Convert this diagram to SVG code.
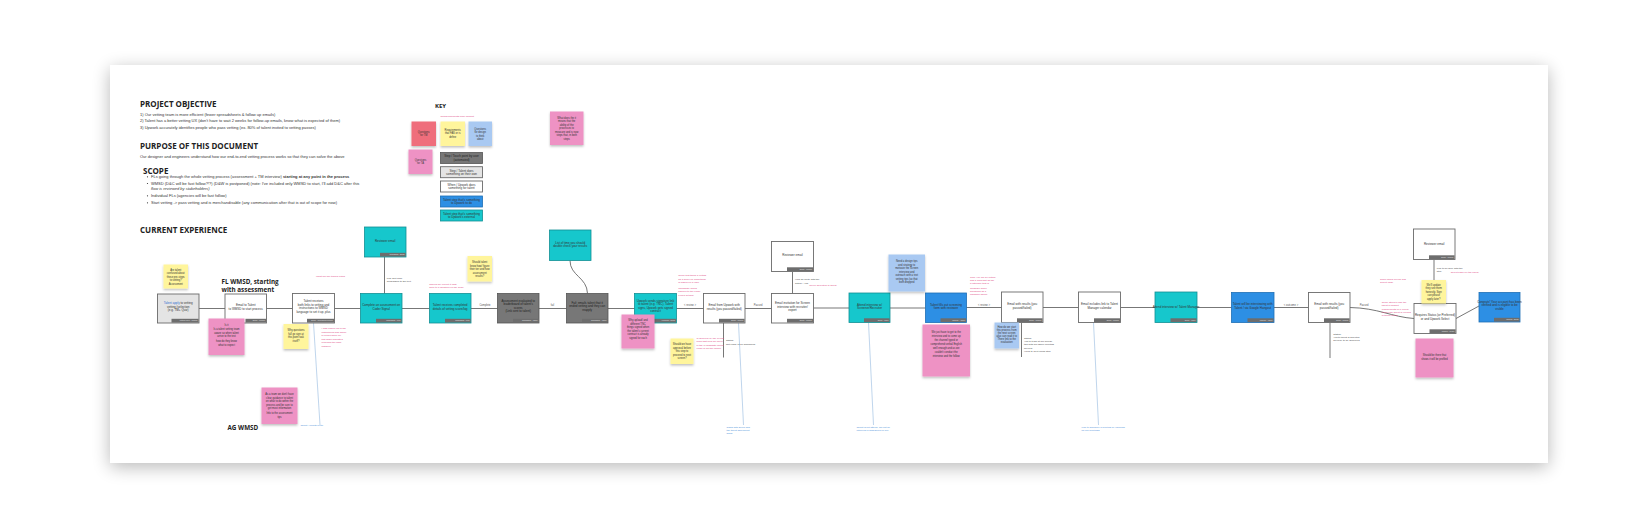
<svg xmlns="http://www.w3.org/2000/svg" width="1645" height="528" viewBox="0 0 1645 528">
<defs>
<filter id="boardShadow" x="-5%" y="-10%" width="110%" height="125%">
<feGaussianBlur in="SourceAlpha" stdDeviation="9"/>
<feOffset dy="4"/>
<feComponentTransfer><feFuncA type="linear" slope="0.28"/></feComponentTransfer>
<feMerge><feMergeNode/><feMergeNode in="SourceGraphic"/></feMerge>
</filter>
<filter id="stickyShadow" x="-20%" y="-20%" width="140%" height="150%">
<feDropShadow dx="0" dy="1.5" stdDeviation="1.2" flood-color="#000" flood-opacity="0.25"/>
</filter>
</defs>
<style>
.h{font-family:"Open Sans","Liberation Sans",sans-serif;font-weight:bold;fill:#222}
.b{font-family:"Liberation Sans",Arial,sans-serif;font-size:4px;fill:#333}
.t{font-family:"Liberation Sans",Arial,sans-serif;font-size:3px;fill:#333;text-anchor:middle}
.tw{font-family:"Liberation Sans",Arial,sans-serif;font-size:3px;fill:#1e1e1e;text-anchor:middle}
.tk{font-family:"Liberation Sans",Arial,sans-serif;font-size:3px;fill:#f2f2f2;text-anchor:middle}
.tb{font-family:"Liberation Sans",Arial,sans-serif;font-size:1.8px;fill:#e6e6e6;text-anchor:end}
.s{font-family:"Liberation Sans",Arial,sans-serif;font-size:2.6px;fill:#333;text-anchor:middle}
.pk{font-family:"Liberation Sans",Arial,sans-serif;font-size:2.5px;fill:#e0457f}
.gt{font-family:"Liberation Sans",Arial,sans-serif;font-size:2.5px;fill:#444}
.bt{font-family:"Liberation Sans",Arial,sans-serif;font-size:2.5px;fill:#4a90d9}
.lbl{font-family:"Liberation Sans",Arial,sans-serif;font-size:2.6px;fill:#555;text-anchor:middle}
.wn{fill:#ffffff;stroke:#6a6a6a;stroke-width:0.9}
.lg{fill:#e4e4e4;stroke:#6a6a6a;stroke-width:0.9}
.tl{fill:#16c7cc;stroke:#128f94;stroke-width:0.8}
.gy{fill:#777777;stroke:#555;stroke-width:0.8}
.bu{fill:#2d8fe4;stroke:#1f6fb5;stroke-width:0.8}
.bar{fill:#6d6d6d}
.sy{fill:#fff59c;filter:url(#stickyShadow)}
.sp{fill:#ee92c4;filter:url(#stickyShadow)}
.sb{fill:#a9c9f2;filter:url(#stickyShadow)}
.sr{fill:#ef6e7b;filter:url(#stickyShadow)}
.c{fill:none;stroke:#5e5e5e;stroke-width:0.85}
.cb{fill:none;stroke:#b3cde8;stroke-width:0.85}
</style>

<rect x="0" y="0" width="1645" height="528" fill="#ffffff"/>
<rect x="110" y="65" width="1438" height="398" fill="#ffffff" filter="url(#boardShadow)"/>

<!-- Intro text -->
<g id="intro">
<text class="h" x="140" y="107" font-size="8">PROJECT OBJECTIVE</text>
<text class="b" x="140" y="115.5">1) Our vetting team is more efficient (fewer spreadsheets &amp; follow up emails)</text>
<text class="b" x="140" y="122">2) Talent has a better vetting UX (don't have to wait 2 weeks for follow-up emails, know what is expected of them)</text>
<text class="b" x="140" y="129">3) Upwork accurately identifies people who pass vetting (ex. 80% of talent invited to vetting passes)</text>
<text class="h" x="140" y="149" font-size="8">PURPOSE OF THIS DOCUMENT</text>
<text class="b" x="140" y="158">Our designer and engineers understand how our end-to-end vetting process works so that they can solve the above</text>
<text class="h" x="143" y="174" font-size="8">SCOPE</text>
<circle cx="147.5" cy="176.8" r="0.6" fill="#333"/>
<text class="b" x="151" y="178">FLs going through the whole vetting process (assessment + TM interview) <tspan font-weight="bold">starting at any point in the process</tspan></text>
<circle cx="147.5" cy="183.5" r="0.6" fill="#333"/>
<text class="b" x="151" y="184.7">WMSD (D&amp;C will be fast follow?!?) (D&amp;W is postponed) (note: I've included only WMSD to start, I'll add D&amp;C after this</text>
<text class="b" x="151" y="190" font-style="italic">flow is reviewed by stakeholders)</text>
<circle cx="147.5" cy="195.8" r="0.6" fill="#333"/>
<text class="b" x="151" y="197">Individual FLs (agencies will be fast follow)</text>
<circle cx="147.5" cy="202.8" r="0.6" fill="#333"/>
<text class="b" x="151" y="204">Start vetting -&gt; pass vetting and is merchandisable (any communication after that is out of scope for now)</text>
<text class="h" x="140" y="233" font-size="8">CURRENT EXPERIENCE</text>
<text class="h" x="221.5" y="283.5" font-size="6.3">FL WMSD, starting</text>
<text class="h" x="221.5" y="291.5" font-size="6.3">with assessment</text>
<text class="h" x="227.5" y="429.5" font-size="6.3">AG WMSD</text>
</g>

<!-- Key -->
<g id="key">
<text class="h" x="435" y="108" font-size="6">KEY</text>
<text class="pk" x="440.5" y="116.5">Notes/comments from product</text>
<g id="key-red"><rect class="sr" x="411.5" y="121.5" width="24.5" height="24.5"/><text class="s" x="423.7" y="132.5" fill="#7a1420">Questions</text><text class="s" x="423.7" y="136" fill="#7a1420">for TM</text></g>
<g id="key-yellow"><rect class="sy" x="440.5" y="121.5" width="24.5" height="24.5"/><text class="s" x="452.7" y="130.5">Requirements</text><text class="s" x="452.7" y="134">that FAS or is</text><text class="s" x="452.7" y="137.5">define</text></g>
<g id="key-blue"><rect class="sb" x="468.5" y="121.5" width="23.5" height="24.5"/><text class="s" x="480.2" y="129.5">Questions</text><text class="s" x="480.2" y="133">for design</text><text class="s" x="480.2" y="136.5">to think</text><text class="s" x="480.2" y="140">about</text></g>
<g id="key-pink"><rect class="sp" x="408.5" y="149.5" width="24" height="24.5"/><text class="s" x="420.5" y="160.5">Questions</text><text class="s" x="420.5" y="164">for TA</text></g>
<g id="key-gray"><rect class="gy" x="440.5" y="152.5" width="42" height="11"/><text class="tw" x="461.5" y="157.3" font-size="2.5">Step / Touch point by user</text><text class="tw" x="461.5" y="160.5" font-size="2.5">(automated)</text></g>
<g id="key-lgray"><rect class="lg" x="440.5" y="166.7" width="42" height="11"/><text class="t" x="461.5" y="171.5" font-size="2.5">Step / Talent does</text><text class="t" x="461.5" y="174.7" font-size="2.5">something on their own</text></g>
<g id="key-white"><rect class="wn" x="440.5" y="181" width="42" height="11"/><text class="t" x="461.5" y="185.8" font-size="2.5">When / Upwork does</text><text class="t" x="461.5" y="189" font-size="2.5">something for talent</text></g>
<g id="key-bluebox"><rect class="bu" x="440.5" y="196" width="42" height="11"/><text class="t" x="461.5" y="200.8" font-size="2.5">Talent step that's something</text><text class="t" x="461.5" y="204" font-size="2.5">to Upwork to do</text></g>
<g id="key-teal"><rect class="tl" x="440.5" y="210" width="42" height="11"/><text class="t" x="461.5" y="214.8" font-size="2.5">Talent step that's something</text><text class="t" x="461.5" y="218" font-size="2.5">to Upwork's external</text></g>
</g>

<g id="sticky-top"><rect class="sp" x="550" y="111.5" width="33.5" height="33.5"/>
<text class="s" x="566.7" y="118.5">What does the it</text><text class="s" x="566.7" y="122">means that the</text><text class="s" x="566.7" y="125.5">ability of the</text><text class="s" x="566.7" y="129">processes to</text><text class="s" x="566.7" y="132.5">measure and is now</text><text class="s" x="566.7" y="136">steps that, in both</text><text class="s" x="566.7" y="139.5">steps</text></g>

<!-- Connectors -->
<g id="connectors">
<path class="c" d="M199 308.5H225"/>
<path class="c" d="M266.5 308.5H292.5"/>
<path class="c" d="M334.5 308.5H360.5"/>
<path class="c" d="M384.5 257V293.5"/>
<path class="c" d="M402 308.5H429.5"/>
<path class="c" d="M471 308.5H497.5"/>
<path class="c" d="M539 308.5H566.5"/>
<path class="c" d="M570 260.5C570 276 587 277 587.5 293.5" stroke-width="1.1"/>
<path class="c" d="M608 308.5H634.5"/>
<path class="c" d="M676.5 308.5H703.5"/>
<path class="c" d="M723.5 323V357.5"/>
<path class="c" d="M745 308.5H771.5"/>
<path class="c" d="M792.5 271.5V293.5"/>
<path class="c" d="M813.5 308H849"/>
<path class="c" d="M890 308H925.5"/>
<path class="c" d="M966.5 307.5H1001.5"/>
<path class="c" d="M1021.5 322.5V357"/>
<path class="c" d="M1043 307.5H1078.5"/>
<path class="c" d="M1120.5 307.5H1155"/>
<path class="c" d="M1197 307.5H1231.5"/>
<path class="c" d="M1274 307.5H1308.5"/>
<path class="c" d="M1330 322.5V358"/>
<path class="c" d="M1350 307.5C1378 308 1392 317 1414 318.5"/>
<path class="c" d="M1434 259.5V303.5"/>
<path class="c" d="M1456 318.5L1479 306"/>
<path class="cb" d="M313.5 323L320 425"/>
<path class="cb" d="M738.5 323L743.5 425"/>
<path class="cb" d="M868.5 322.5L873.5 425"/>
<path class="cb" d="M1093.5 322.5L1098.5 425"/>
<text class="lbl" x="485" y="306">Complete</text>
<text class="lbl" x="552.5" y="306">fail</text>
<text class="lbl" x="690" y="306">&lt; review &gt;</text>
<text class="lbl" x="758" y="306">Passed</text>
<text class="lbl" x="984" y="306">&lt; review &gt;</text>
<text class="lbl" x="1291" y="306">&lt; outcome &gt;</text>
<text class="lbl" x="1364" y="306">Passed</text>
</g>

<!-- Nodes -->
<g id="n1"><rect class="lg" x="157.5" y="294" width="41.5" height="29"/><rect class="bar" x="171.5" y="318.8" width="27.1" height="3.8"/><text class="tb" x="197.5" y="321.3">Vetting log in - Upwork</text>
<text class="t" x="178.2" y="304"><tspan fill="#2f6fd0">Talent apply</tspan> to vetting</text><text class="t" x="178.2" y="307.6">vetting (selection</text><text class="t" x="178.2" y="311.2">(e.g. TM+ Quiz)</text></g>

<g id="n2"><rect class="wn" x="225" y="294" width="41.5" height="29"/><rect class="bar" x="245.5" y="318.8" width="20.6" height="3.8"/><text class="tb" x="265" y="321.3">Email - Upwork</text>
<text class="t" x="245.7" y="306">Email to Talent</text><text class="t" x="245.7" y="309.6">to WMSD to start process</text></g>

<g id="n3"><rect class="wn" x="292.5" y="293.5" width="42" height="29.5"/><rect class="bar" x="307" y="318.8" width="27.1" height="3.8"/><text class="tb" x="333" y="321.3">Email - Codesignal/Upwork</text>
<text class="t" x="313.5" y="302">Talent receives</text><text class="t" x="313.5" y="305.6">both links to vetting and</text><text class="t" x="313.5" y="309.2">instructions to WMSD</text><text class="t" x="313.5" y="312.8">language to set it up, plus</text></g>

<g id="ta"><rect class="tl" x="364.5" y="227" width="41.5" height="30"/><rect class="bar" x="380" y="252.8" width="25.6" height="3.8"/><text class="tb" x="404.5" y="255.3">Codesignal - Email</text>
<text class="t" x="385.2" y="242">Reviewer email</text></g>

<g id="n4"><rect class="tl" x="360.5" y="293.5" width="41.5" height="29.5"/><rect class="bar" x="376" y="318.8" width="25.6" height="3.8"/><text class="tb" x="400.5" y="321.3">Codesignal - Web</text>
<text class="t" x="381.2" y="306">Complete an assessment on</text><text class="t" x="381.2" y="309.6">Coder Signal</text></g>

<g id="n5"><rect class="tl" x="429.5" y="293.5" width="41.5" height="29.5"/><rect class="bar" x="445" y="318.8" width="25.6" height="3.8"/><text class="tb" x="469.5" y="321.3">Codesignal - Web</text>
<text class="t" x="450.2" y="306">Talent receives completed</text><text class="t" x="450.2" y="309.6">details of vetting score/log</text></g>

<g id="n6"><rect class="gy" x="497.5" y="293.5" width="41.5" height="29.5"/><rect class="bar" x="513" y="318.8" width="25.6" height="3.8" fill="#5a5a5a"/><text class="tb" x="537.5" y="321.3">Codesignal - Admin</text>
<text class="tw" x="518.2" y="301.5">Assessment evaluated to</text><text class="tw" x="518.2" y="305.1">leaderboard of talent's</text><text class="tw" x="518.2" y="308.7">scores</text><text class="tw" x="518.2" y="312.3">(Link sent to talent)</text></g>

<g id="n7"><rect class="gy" x="566.5" y="293.5" width="41.5" height="29.5"/><rect class="bar" x="582" y="318.8" width="25.6" height="3.8" fill="#5a5a5a"/><text class="tb" x="606.5" y="321.3">Codesignal - Admin</text>
<text class="tw" x="587.2" y="303.5">Fail: emails talent that it</text><text class="tw" x="587.2" y="307.1">ended vetting and they can</text><text class="tw" x="587.2" y="310.7">reapply</text></g>

<g id="tb"><rect class="tl" x="549.5" y="230" width="41.5" height="30.5"/>
<text class="t" x="570.2" y="243.5">List of time you should</text><text class="t" x="570.2" y="247.1">double check your results</text></g>

<g id="n8"><rect class="tl" x="634.5" y="293.5" width="42" height="29.5"/><rect class="bar" x="650" y="318.8" width="26.1" height="3.8"/><text class="tb" x="675" y="321.3">Hellosign - Email</text>
<text class="t" x="655.5" y="301.5">Upwork sends signature link</text><text class="t" x="655.5" y="305.1">to talent (e.g. TNC), Talent</text><text class="t" x="655.5" y="308.7">signs, Upwork gets signed</text><text class="t" x="655.5" y="312.3">contract</text></g>

<g id="n9"><rect class="wn" x="703.5" y="293.5" width="41.5" height="29.5"/><rect class="bar" x="719" y="318.8" width="25.6" height="3.8"/><text class="tb" x="743.5" y="321.3">Email - Upwork</text>
<text class="t" x="724.2" y="306">Email from Upwork with</text><text class="t" x="724.2" y="309.6">results (you passed/failed)</text></g>

<g id="tc"><rect class="wn" x="771.5" y="241.5" width="42" height="30"/><rect class="bar" x="787" y="267.3" width="26.1" height="3.8"/><text class="tb" x="812" y="269.8">Email - Upwork</text>
<text class="t" x="792.5" y="256">Reviewer email</text></g>

<g id="n10"><rect class="wn" x="771.5" y="293.5" width="42" height="29.5"/><rect class="bar" x="787" y="318.8" width="26.1" height="3.8"/><text class="tb" x="812" y="321.3">Email - Upwork</text>
<text class="t" x="792.5" y="304">Email invitation for Screen</text><text class="t" x="792.5" y="307.6">interview with recruiter/</text><text class="t" x="792.5" y="311.2">expert</text></g>

<g id="n11"><rect class="tl" x="849" y="293" width="41" height="29.5"/><rect class="bar" x="864" y="318.3" width="25.6" height="3.8"/><text class="tb" x="888.5" y="320.8">Zoom - Video</text>
<text class="t" x="869.5" y="305.5">Attend interview w/</text><text class="t" x="869.5" y="309.1">Screener/Recruiter</text></g>

<g id="n12"><rect class="bu" x="925.5" y="293" width="41" height="29.5"/><rect class="bar" x="940.5" y="318.3" width="25.6" height="3.8"/><text class="tb" x="965" y="320.8">Upwork - Admin</text>
<text class="t" x="946" y="305.5">Talent fills out screening</text><text class="t" x="946" y="309.1">form with reviewer</text></g>

<g id="n13"><rect class="wn" x="1001.5" y="292" width="41.5" height="30.5"/><rect class="bar" x="1017" y="318.3" width="25.6" height="3.8"/><text class="tb" x="1041.5" y="320.8">Email - Upwork</text>
<text class="t" x="1022.2" y="305">Email with results (you</text><text class="t" x="1022.2" y="308.6">passed/failed)</text></g>

<g id="n14"><rect class="wn" x="1078.5" y="292" width="42" height="30.5"/><rect class="bar" x="1094" y="318.3" width="26.1" height="3.8"/><text class="tb" x="1119" y="320.8">Email - Upwork</text>
<text class="t" x="1099.5" y="305">Email includes link to Talent</text><text class="t" x="1099.5" y="308.6">Manager calendar</text></g>

<g id="n15"><rect class="tl" x="1155" y="292" width="42" height="30.5"/><rect class="bar" x="1170.5" y="318.3" width="26.1" height="3.8"/><text class="tb" x="1195.5" y="320.8">Zoom - Video</text>
<text class="t" x="1176" y="308">Attend interview w/ Talent Manager</text></g>

<g id="n16"><rect class="bu" x="1231.5" y="292.5" width="42.5" height="30"/><rect class="bar" x="1247.5" y="318.3" width="26.1" height="3.8"/><text class="tb" x="1272.5" y="320.8">Upwork - Admin</text>
<text class="t" x="1252.7" y="305">Talent will be interviewing with</text><text class="t" x="1252.7" y="308.6">Talent / via Google Hangout</text></g>

<g id="n17"><rect class="wn" x="1308.5" y="292.5" width="41.5" height="30"/><rect class="bar" x="1324" y="318.3" width="25.6" height="3.8"/><text class="tb" x="1348.5" y="320.8">Email - Upwork</text>
<text class="t" x="1329.2" y="305">Email with results (you</text><text class="t" x="1329.2" y="308.6">passed/failed)</text></g>

<g id="td"><rect class="wn" x="1413.5" y="229" width="41.5" height="30.5"/><rect class="bar" x="1429" y="255.3" width="25.6" height="3.8"/><text class="tb" x="1453.5" y="257.8">Email - Upwork</text>
<text class="t" x="1434.2" y="245">Reviewer email</text></g>

<g id="n18"><rect class="wn" x="1414" y="303.5" width="42" height="30"/><rect class="bar" x="1429.5" y="329.3" width="26.1" height="3.8"/><text class="tb" x="1454.5" y="331.8">Upwork - Profile</text>
<text class="t" x="1435" y="316">Requires Status (or Preferred)</text><text class="t" x="1435" y="319.6">or and Upwork Select</text></g>

<g id="n19"><rect class="bu" x="1479" y="292.5" width="41" height="29.5"/><rect class="bar" x="1494" y="317.8" width="25.6" height="3.8"/><text class="tb" x="1518.5" y="320.3">Upwork - Email</text>
<text class="t" x="1499.5" y="302.5">Congrats! Your account has been</text><text class="t" x="1499.5" y="306.1">verified and is eligible to be</text><text class="t" x="1499.5" y="309.7">visible</text></g>

<!-- Stickies -->
<g id="st1"><rect class="sy" x="163.5" y="264.5" width="24.5" height="24"/><text class="s" x="175.7" y="270.5">Are talent</text><text class="s" x="175.7" y="274">confused about</text><text class="s" x="175.7" y="277.5">these pre-steps</text><text class="s" x="175.7" y="281">to vetting?</text><text class="s" x="175.7" y="284.5">Assessment</text></g>
<g id="st2"><rect class="sp" x="208.5" y="318.5" width="36" height="36.5"/><text class="s" x="226.5" y="325.5">Is it</text><text class="s" x="226.5" y="330" fill="#3b3bd0">Is a talent vetting team</text><text class="s" x="226.5" y="333.5" fill="#3b3bd0">aware so when talent</text><text class="s" x="226.5" y="337" fill="#3b3bd0">arrive to the test</text><text class="s" x="226.5" y="342" fill="#3b3bd0">how do they know</text><text class="s" x="226.5" y="345.5" fill="#3b3bd0">what to expect</text></g>
<g id="st3"><rect class="sy" x="283.5" y="324" width="25" height="25"/><text class="s" x="296" y="331">Why questions</text><text class="s" x="296" y="334.5">fall go sign at</text><text class="s" x="296" y="338">this point task</text><text class="s" x="296" y="341.5">itself?</text></g>
<g id="st4"><rect class="sp" x="261.5" y="387.5" width="36" height="36.5"/><text class="s" x="279.5" y="395">As a team we don't have</text><text class="s" x="279.5" y="398.5">clear guidance to talent</text><text class="s" x="279.5" y="402">on what to do within the</text><text class="s" x="279.5" y="405.5">process and be sure to</text><text class="s" x="279.5" y="409">get most information</text><text class="s" x="279.5" y="414">Info to the assessment</text><text class="s" x="279.5" y="417.5">tips</text></g>
<g id="st5"><rect class="sy" x="467.5" y="256" width="24.5" height="25.5"/><text class="s" x="479.7" y="263">Should talent</text><text class="s" x="479.7" y="266.5">know how/ figure</text><text class="s" x="479.7" y="270">their tier and how</text><text class="s" x="479.7" y="273.5">assessment</text><text class="s" x="479.7" y="277">results?</text></g>
<g id="st6"><rect class="sp" x="621.5" y="314.5" width="33" height="34"/><text class="s" x="638" y="321">Why upload/ and</text><text class="s" x="638" y="324.5">different TNC</text><text class="s" x="638" y="328" fill="#3b3bd0">things signed when</text><text class="s" x="638" y="331.5" fill="#3b3bd0">the talent's current</text><text class="s" x="638" y="335" fill="#3b3bd0">contract is already</text><text class="s" x="638" y="338.5" fill="#3b3bd0">signed for each</text></g>
<g id="st7"><rect class="sy" x="670.5" y="338.5" width="23" height="25.5"/><text class="s" x="682" y="345">Should we have</text><text class="s" x="682" y="348.5">approval before</text><text class="s" x="682" y="352">this step to</text><text class="s" x="682" y="355.5">proceed to next</text><text class="s" x="682" y="359">screen?</text></g>
<g id="st8"><rect class="sb" x="888.5" y="254.5" width="36.5" height="37"/><text class="s" x="906.7" y="262">Need a design tips</text><text class="s" x="906.7" y="265.5">and strategy to</text><text class="s" x="906.7" y="269">motivate the Screen</text><text class="s" x="906.7" y="272.5">interview and</text><text class="s" x="906.7" y="276">outreach with a text</text><text class="s" x="906.7" y="279.5">vetting tips (so that</text><text class="s" x="906.7" y="283">both dropped</text></g>
<g id="st9"><rect class="sp" x="922.5" y="324.5" width="47.5" height="52"/><text class="s" x="946.2" y="333">We just have to get to the</text><text class="s" x="946.2" y="337">interview and to come up</text><text class="s" x="946.2" y="341">the channel typed or</text><text class="s" x="946.2" y="345">comprehend verbal English</text><text class="s" x="946.2" y="349">well enough and as we</text><text class="s" x="946.2" y="353">couldn't conduct the</text><text class="s" x="946.2" y="357">interview and the follow</text></g>
<g id="st10"><rect class="sb" x="994.5" y="322.5" width="24.5" height="26"/><text class="s" x="1006.7" y="328">How do we start</text><text class="s" x="1006.7" y="331">this process from</text><text class="s" x="1006.7" y="334">the next screen</text><text class="s" x="1006.7" y="337">also can read it to</text><text class="s" x="1006.7" y="340">There link to the</text><text class="s" x="1006.7" y="343">evaluation</text></g>
<g id="st11"><rect class="sy" x="1421.5" y="280" width="24.5" height="23.5"/><text class="s" x="1433.7" y="285.5">We'll update</text><text class="s" x="1433.7" y="289">they see them</text><text class="s" x="1433.7" y="292.5">honestly. Sign</text><text class="s" x="1433.7" y="296">can please</text><text class="s" x="1433.7" y="299.5">apply later?</text></g>
<g id="st12"><rect class="sp" x="1415.5" y="338.5" width="38" height="39"/><text class="s" x="1434.5" y="356">Should be there that</text><text class="s" x="1434.5" y="359.5">shows it will be profiled</text></g>

<!-- Annotations -->
<g id="notes">
<text class="pk" x="316" y="277">What are the team's notes</text>
<text class="pk" x="321.5" y="329">I was unsure as to the</text><text class="pk" x="321.5" y="332.5">instructions and where</text><text class="pk" x="321.5" y="336">to return since my</text><text class="pk" x="321.5" y="339.5">test didn't indicated</text><text class="pk" x="321.5" y="343">returning the right</text><text class="pk" x="321.5" y="346.5">instance</text>
<text class="gt" x="386.7" y="278.5">Link Text from</text><text class="gt" x="386.7" y="282.3">Codesignal to the text</text>
<text class="pk" x="429.3" y="284.5">Should we expect it right</text><text class="pk" x="429.3" y="288.2">Note to a question on the scale</text>
<text class="pk" x="678.3" y="276.3">Quick test takes a vetting</text><text class="pk" x="678.3" y="279.8">as a score for something</text><text class="pk" x="678.3" y="283.3">is based on a logic</text>
<text class="pk" x="678.3" y="288.5">Candidate would</text><text class="pk" x="678.3" y="292">happen to the email</text><text class="pk" x="678.3" y="295.5">expert bit skip</text>
<text class="pk" x="696.5" y="339">Is approval by the review</text><text class="pk" x="696.5" y="342.3">team that now we move</text><text class="pk" x="696.5" y="345.6">to the a candidate check</text><text class="pk" x="696.5" y="348.9">email is not the choice</text>
<text class="gt" x="726" y="341.3">Status:</text><text class="gt" x="726" y="344.8">Not ready to be scheduled</text>
<text class="gt" x="795" y="280.3">How an invite with the</text><text class="gt" x="795" y="283.7">action + link</text>
<text class="pk" x="809.3" y="285.5">Cover Selection to talent</text>
<text class="pk" x="970" y="277.6">Time you will be noting</text><text class="pk" x="970" y="280.6">and a fund that as the</text><text class="pk" x="970" y="283.6">a rationale that is</text>
<text class="pk" x="970" y="289.3">Consider some</text><text class="pk" x="970" y="292.3">questions as a</text><text class="pk" x="970" y="295.3">Manager Talent</text>
<text class="gt" x="1024" y="338.6">Status:</text><text class="gt" x="1024" y="342">Yes to team at TM decide</text><text class="gt" x="1024" y="345.4">talk with TM agree meeting</text><text class="gt" x="1024" y="348.8">Review</text><text class="gt" x="1024" y="352.2">Hired to next round step</text>
<text class="gt" x="1333.3" y="334.6">Status:</text><text class="gt" x="1333.3" y="338">Yes to talent is selected</text><text class="gt" x="1333.3" y="341.4">Review: to be approved</text>
<text class="pk" x="1380" y="279.6">Some steps review and</text><text class="pk" x="1380" y="283.4">Select page</text>
<text class="pk" x="1381.7" y="303">Some steps to ask the</text><text class="pk" x="1381.7" y="306.3">talent to submit</text><text class="pk" x="1381.7" y="309.6">requirements in a rollout</text><text class="pk" x="1381.7" y="312.9">before the talent is verified</text><text class="pk" x="1381.7" y="316.2">in talent profile</text>
<text class="gt" x="1436.7" y="268.5">Link to be here with the</text><text class="gt" x="1436.7" y="271.8">step</text>
<text class="pk" x="1450.7" y="273">Select page for the users</text>
<text class="bt" x="300.5" y="426">Talent Accepts invite</text>
<text class="bt" x="726.5" y="427.5">Signs with Zoom and</text><text class="bt" x="726.5" y="430.5">the talent agreement</text><text class="bt" x="726.5" y="433.5">signs</text>
<text class="bt" x="856.5" y="427.8">Talent is not attend, will not be</text><text class="bt" x="856.5" y="430.6">interview a scheduled on TM</text>
<text class="bt" x="1081.5" y="427.8">Link to schedule a meeting by calendar</text><text class="bt" x="1081.5" y="430.6">for TM meetings</text>
</g>
</svg>
